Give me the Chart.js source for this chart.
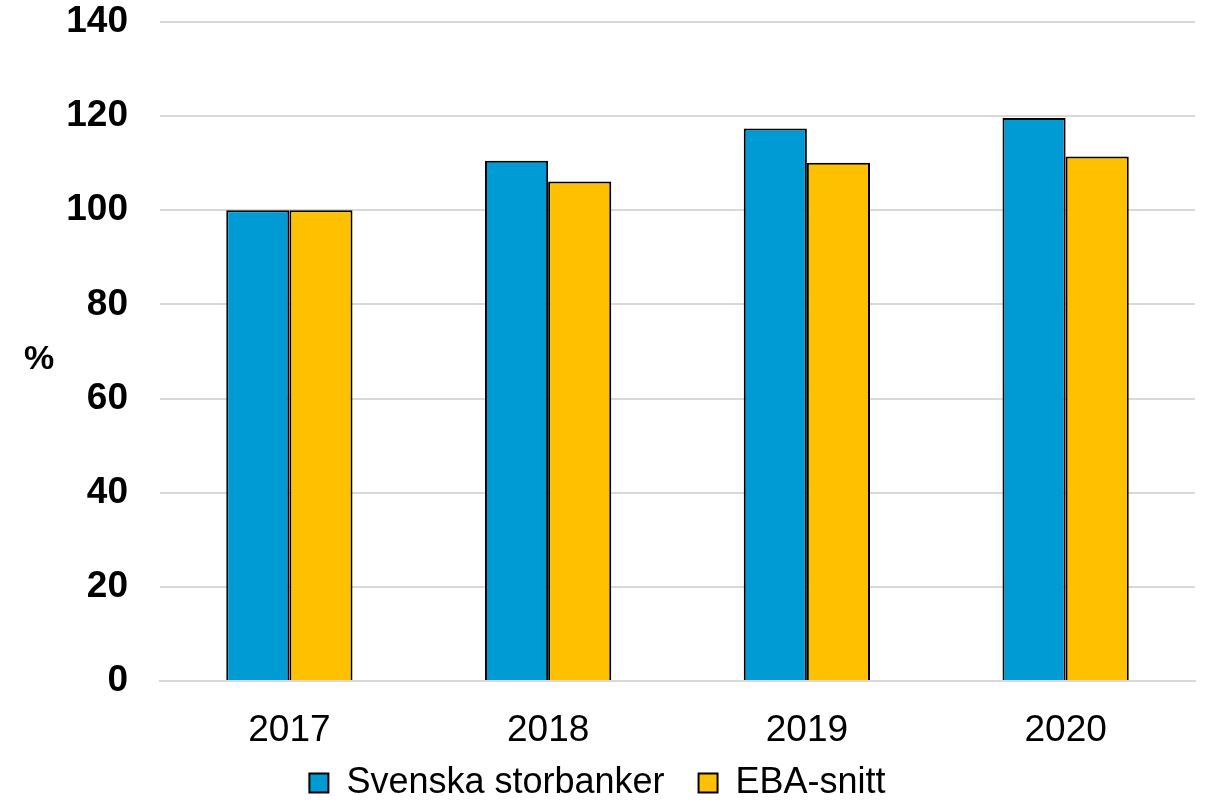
<!DOCTYPE html>
<html><head><meta charset="utf-8">
<script src="https://cdn.jsdelivr.net/npm/chart.js@4"></script>
<style>
html,body{margin:0;padding:0;background:#fff;}
#wrap{position:relative;width:1217px;height:807px;}
#pct{position:absolute;left:24px;top:338px;font:bold 34px "Liberation Sans",Arial,sans-serif;color:#000;}
</style></head>
<body><div id="wrap"><canvas id="c" width="1217" height="807"></canvas><div id="pct">%</div></div>
<script>
const categories = ["2017","2018","2019","2020"];
const svenskaStorbanker = [100, 110.5, 117.4, 119.6];
const ebaSnitt = [100, 106.1, 110.1, 111.4];
const seriesNames = ["Svenska storbanker","EBA-snitt"];
const font = '"Liberation Sans", Arial, sans-serif';
Chart.defaults.font.family = font;
Chart.defaults.color = '#000';
const legendShift = {id:'legendShift', afterLayout(chart){ if(chart.legend){ chart.legend.top -= 22; chart.legend.bottom -= 22; } }};
new Chart(document.getElementById('c'), {
  type:'bar',
  data:{labels:categories, datasets:[
    {label:seriesNames[0], data:svenskaStorbanker, backgroundColor:'#009BD5', borderColor:'#000', borderWidth:2, categoryPercentage:0.488, barPercentage:1},
    {label:seriesNames[1], data:ebaSnitt, backgroundColor:'#FFC000', borderColor:'#000', borderWidth:2, categoryPercentage:0.488, barPercentage:1}
  ]},
  plugins:[legendShift],
  options:{
    responsive:false, animation:false,
    layout:{padding:{top:22,right:22,left:0,bottom:-26}},
    plugins:{legend:{position:'bottom', labels:{font:{size:36}, boxWidth:19, boxHeight:19, padding:34, color:'#000'}}, tooltip:{enabled:false}},
    scales:{
      x:{grid:{display:false}, border:{display:true,color:'#D9D9D9',width:2}, ticks:{font:{size:37}, padding:20, color:'#000'},
         afterFit:(s)=>{s.height=72; s.paddingLeft=0; s.paddingRight=0;}},
      y:{min:0,max:140, ticks:{stepSize:20, font:{size:37, weight:'bold'}, padding:32, color:'#000'},
         grid:{color:'#D9D9D9', lineWidth:2, drawTicks:false}, border:{display:false},
         afterFit:(s)=>{s.width=160; s.paddingTop=0; s.paddingBottom=0;}}
    }
  }
});
</script></body></html>
